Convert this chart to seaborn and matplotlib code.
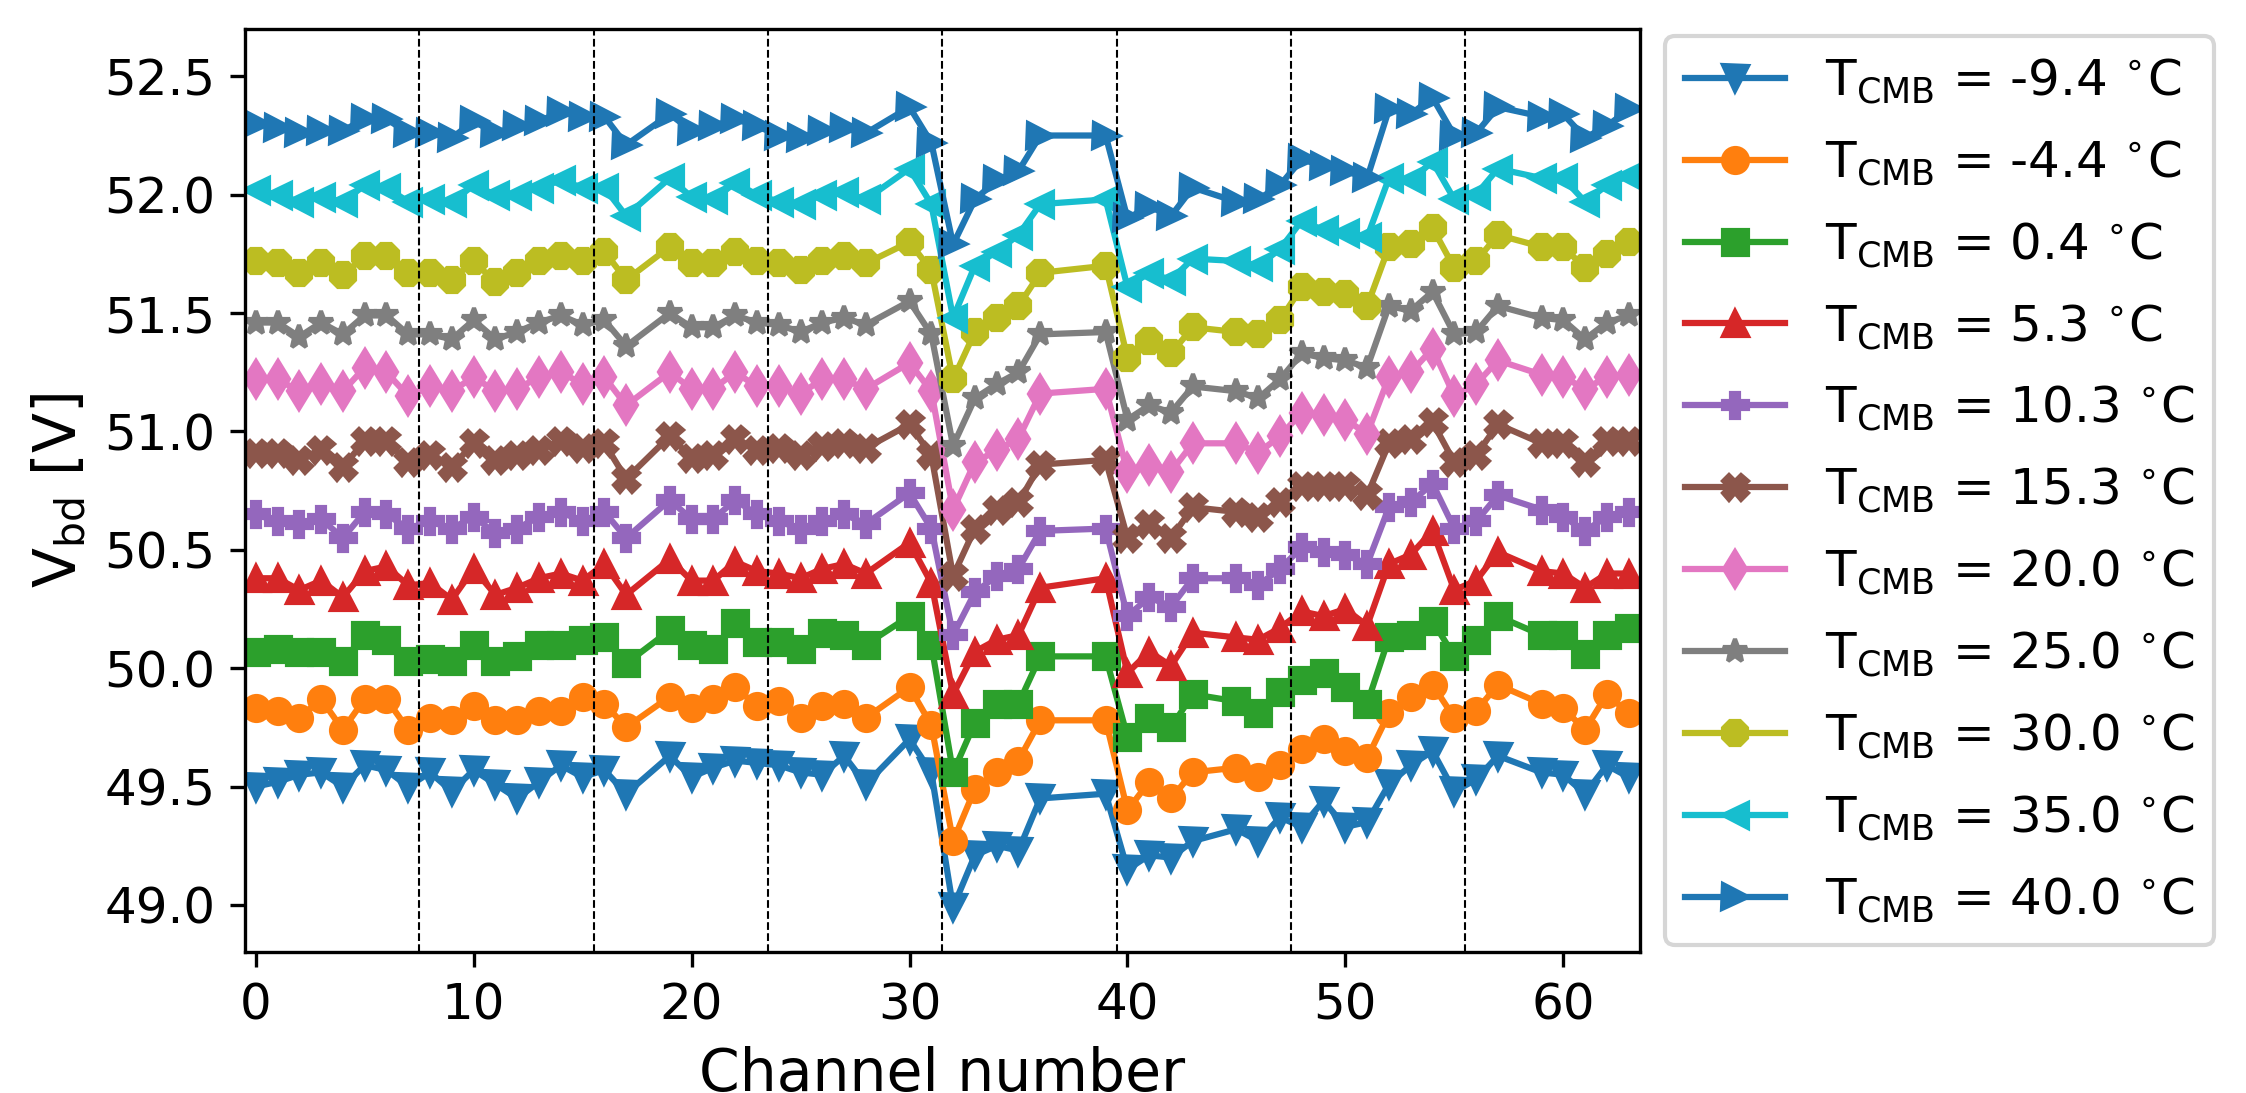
import matplotlib
matplotlib.use('Agg')
import matplotlib.pyplot as plt
import numpy as np
import pandas as pd
import seaborn as sns

# channels that were measured (18, 29, 37, 38, 44, 58 are missing)
channels = list(range(0, 18)) + list(range(19, 29)) + list(range(30, 37)) + \
    list(range(39, 44)) + list(range(45, 58)) + list(range(59, 64))

temps = ['-9.4', '-4.4', '0.4', '5.3', '10.3', '15.3', '20.0', '25.0', '30.0', '35.0', '40.0']

v_m9p4 = [49.50, 49.52, 49.55, 49.56, 49.50, 49.59, 49.57, 49.50, 49.56, 49.48, 49.57, 49.51, 49.45, 49.52, 49.59, 49.54, 49.57, 49.47,
          49.63, 49.54, 49.58, 49.61, 49.60, 49.59, 49.56, 49.55, 49.63, 49.51,
          49.70, 49.56, 48.99, 49.21, 49.25, 49.23, 49.45,
          49.47, 49.15, 49.21, 49.20, 49.27,
          49.32, 49.27, 49.37, 49.33, 49.44, 49.33, 49.35, 49.51, 49.59, 49.65, 49.48, 49.53, 49.63,
          49.56, 49.55, 49.47, 49.59, 49.54]
v_m4p4 = [49.83, 49.82, 49.79, 49.87, 49.74, 49.87, 49.87, 49.74, 49.79, 49.78, 49.84, 49.78, 49.78, 49.82, 49.82, 49.88, 49.85, 49.75,
          49.88, 49.83, 49.87, 49.92, 49.84, 49.86, 49.79, 49.84, 49.85, 49.79,
          49.92, 49.76, 49.27, 49.49, 49.56, 49.61, 49.78,
          49.78, 49.40, 49.52, 49.45, 49.56,
          49.58, 49.54, 49.59, 49.66, 49.70, 49.65, 49.62, 49.81, 49.88, 49.93, 49.79, 49.82, 49.93,
          49.85, 49.83, 49.74, 49.89, 49.81]
v_0p4 = [50.07, 50.08, 50.07, 50.07, 50.03, 50.14, 50.12, 50.03, 50.04, 50.03, 50.10, 50.03, 50.05, 50.10, 50.10, 50.12, 50.13, 50.02,
         50.16, 50.10, 50.08, 50.19, 50.11, 50.11, 50.08, 50.15, 50.14, 50.10,
         50.22, 50.10, 49.56, 49.77, 49.85, 49.85, 50.05,
         50.05, 49.71, 49.79, 49.75, 49.89,
         49.86, 49.81, 49.90, 49.95, 49.98, 49.92, 49.85, 50.13, 50.14, 50.20, 50.05, 50.12, 50.22,
         50.14, 50.14, 50.06, 50.14, 50.17]
v_5p3 = [50.38, 50.38, 50.33, 50.37, 50.30, 50.41, 50.43, 50.35, 50.36, 50.29, 50.42, 50.31, 50.34, 50.38, 50.40, 50.37, 50.44, 50.31,
         50.46, 50.37, 50.37, 50.45, 50.41, 50.40, 50.38, 50.42, 50.44, 50.40,
         50.53, 50.36, 49.89, 50.07, 50.12, 50.14, 50.34,
         50.38, 49.98, 50.07, 50.01, 50.15,
         50.13, 50.12, 50.17, 50.24, 50.22, 50.25, 50.18, 50.44, 50.48, 50.58, 50.33, 50.37, 50.49,
         50.41, 50.40, 50.34, 50.40, 50.40]
v_10p3 = [50.65, 50.62, 50.61, 50.63, 50.55, 50.66, 50.65, 50.59, 50.62, 50.59, 50.64, 50.57, 50.59, 50.64, 50.66, 50.62, 50.66, 50.55,
          50.71, 50.63, 50.63, 50.71, 50.65, 50.62, 50.59, 50.62, 50.65, 50.61,
          50.74, 50.59, 50.14, 50.32, 50.39, 50.42, 50.58,
          50.59, 50.22, 50.30, 50.26, 50.38,
          50.38, 50.35, 50.42, 50.51, 50.49, 50.48, 50.44, 50.68, 50.70, 50.78, 50.59, 50.62, 50.73,
          50.67, 50.64, 50.58, 50.64, 50.66]
v_15p3 = [50.91, 50.91, 50.88, 50.92, 50.85, 50.96, 50.96, 50.87, 50.90, 50.85, 50.95, 50.88, 50.90, 50.92, 50.96, 50.93, 50.95, 50.80,
          50.98, 50.89, 50.90, 50.97, 50.92, 50.93, 50.90, 50.94, 50.95, 50.93,
          51.03, 50.90, 50.39, 50.59, 50.67, 50.70, 50.86,
          50.88, 50.55, 50.61, 50.55, 50.68,
          50.66, 50.64, 50.70, 50.77, 50.77, 50.77, 50.73, 50.95, 50.97, 51.04, 50.87, 50.90, 51.03,
          50.95, 50.95, 50.87, 50.96, 50.96]
v_20p0 = [51.22, 51.22, 51.17, 51.20, 51.17, 51.27, 51.25, 51.15, 51.19, 51.17, 51.23, 51.17, 51.18, 51.23, 51.25, 51.20, 51.23, 51.11,
          51.25, 51.18, 51.18, 51.25, 51.19, 51.19, 51.16, 51.22, 51.22, 51.18,
          51.29, 51.17, 50.67, 50.87, 50.92, 50.97, 51.16,
          51.18, 50.83, 50.86, 50.83, 50.95,
          50.95, 50.91, 50.98, 51.08, 51.07, 51.05, 50.99, 51.23, 51.25, 51.35, 51.15, 51.20, 51.30,
          51.24, 51.23, 51.18, 51.23, 51.24]
v_25p0 = [51.46, 51.46, 51.40, 51.46, 51.41, 51.49, 51.49, 51.41, 51.41, 51.39, 51.47, 51.39, 51.42, 51.46, 51.49, 51.45, 51.47, 51.36,
          51.50, 51.44, 51.44, 51.49, 51.46, 51.45, 51.42, 51.46, 51.48, 51.45,
          51.55, 51.41, 50.94, 51.14, 51.20, 51.25, 51.41,
          51.42, 51.05, 51.11, 51.08, 51.19,
          51.17, 51.14, 51.22, 51.33, 51.31, 51.30, 51.27, 51.53, 51.51, 51.59, 51.41, 51.42, 51.53,
          51.48, 51.47, 51.39, 51.46, 51.49]
v_30p0 = [51.72, 51.71, 51.67, 51.71, 51.66, 51.74, 51.74, 51.67, 51.67, 51.64, 51.72, 51.63, 51.67, 51.72, 51.74, 51.72, 51.76, 51.64,
          51.78, 51.71, 51.71, 51.76, 51.72, 51.71, 51.68, 51.72, 51.74, 51.71,
          51.80, 51.68, 51.22, 51.42, 51.48, 51.53, 51.67,
          51.70, 51.31, 51.38, 51.33, 51.44,
          51.42, 51.41, 51.47, 51.61, 51.59, 51.58, 51.53, 51.78, 51.79, 51.86, 51.69, 51.72, 51.83,
          51.78, 51.78, 51.69, 51.75, 51.80]
v_35p0 = [52.02, 52.00, 51.97, 51.99, 51.97, 52.04, 52.03, 51.97, 51.98, 51.97, 52.04, 52.00, 52.00, 52.03, 52.06, 52.03, 52.03, 51.91,
          52.07, 51.99, 51.98, 52.05, 52.00, 51.97, 51.96, 52.00, 52.01, 51.98,
          52.11, 51.96, 51.48, 51.70, 51.76, 51.83, 51.96,
          51.98, 51.61, 51.67, 51.64, 51.73,
          51.72, 51.70, 51.77, 51.89, 51.85, 51.84, 51.82, 52.07, 52.06, 52.14, 51.98, 52.00, 52.11,
          52.07, 52.07, 51.97, 52.04, 52.08]
v_40p0 = [52.30, 52.28, 52.26, 52.27, 52.27, 52.32, 52.32, 52.26, 52.26, 52.24, 52.31, 52.26, 52.29, 52.31, 52.35, 52.33, 52.33, 52.21,
          52.34, 52.27, 52.29, 52.32, 52.29, 52.25, 52.24, 52.27, 52.28, 52.26,
          52.37, 52.22, 51.79, 51.98, 52.06, 52.10, 52.25,
          52.25, 51.90, 51.95, 51.91, 52.03,
          51.97, 51.98, 52.04, 52.15, 52.12, 52.10, 52.07, 52.36, 52.34, 52.41, 52.25, 52.26, 52.37,
          52.33, 52.34, 52.24, 52.29, 52.36]

all_series = [v_m9p4, v_m4p4, v_0p4, v_5p3, v_10p3, v_15p3, v_20p0, v_25p0, v_30p0, v_35p0, v_40p0]
markers = ['v', 'o', 's', '^', 'P', 'X', 'd', '*', '8', '<', '>']
colors = ['C0', 'C1', 'C2', 'C3', 'C4', 'C5', 'C6', 'C7', 'C8', 'C9', 'C0']

# group boundaries (8 channels each)
boundaries = [7.5, 15.5, 23.5, 31.5, 39.5, 47.5, 55.5]

fig = plt.figure(figsize=(2246 / 300, 1093 / 300), dpi=300)
ax = fig.add_axes([0.109, 0.1287, 0.621, 0.8448])

for t, vals, m, c in zip(temps, all_series, markers, colors):
    df = pd.DataFrame({'Channel': channels, 'Vbd': vals})
    sns.lineplot(data=df, x='Channel', y='Vbd', ax=ax, marker=m, color=c,
                 markersize=6, markeredgecolor=c, markeredgewidth=1, linewidth=1.5,
                 sort=False, estimator=None,
                 label=r'T$_{\mathrm{CMB}}$ = ' + t + r' $^{\circ}$C')

for b in boundaries:
    ax.axvline(b, color='black', linestyle='--', linewidth=0.5)

ax.set_xlim(-0.5, 63.5)
ax.set_ylim(48.8, 52.7)
ax.set_xlabel('Channel number', fontsize=14)
ax.set_ylabel(r'V$_{\mathrm{bd}}$ [V]', fontsize=14)
ax.tick_params(labelsize=12)

ax.legend(loc='center left', bbox_to_anchor=(1.0, 0.5), fontsize=12, labelspacing=0.65)

fig.savefig('out.png', dpi=300)
